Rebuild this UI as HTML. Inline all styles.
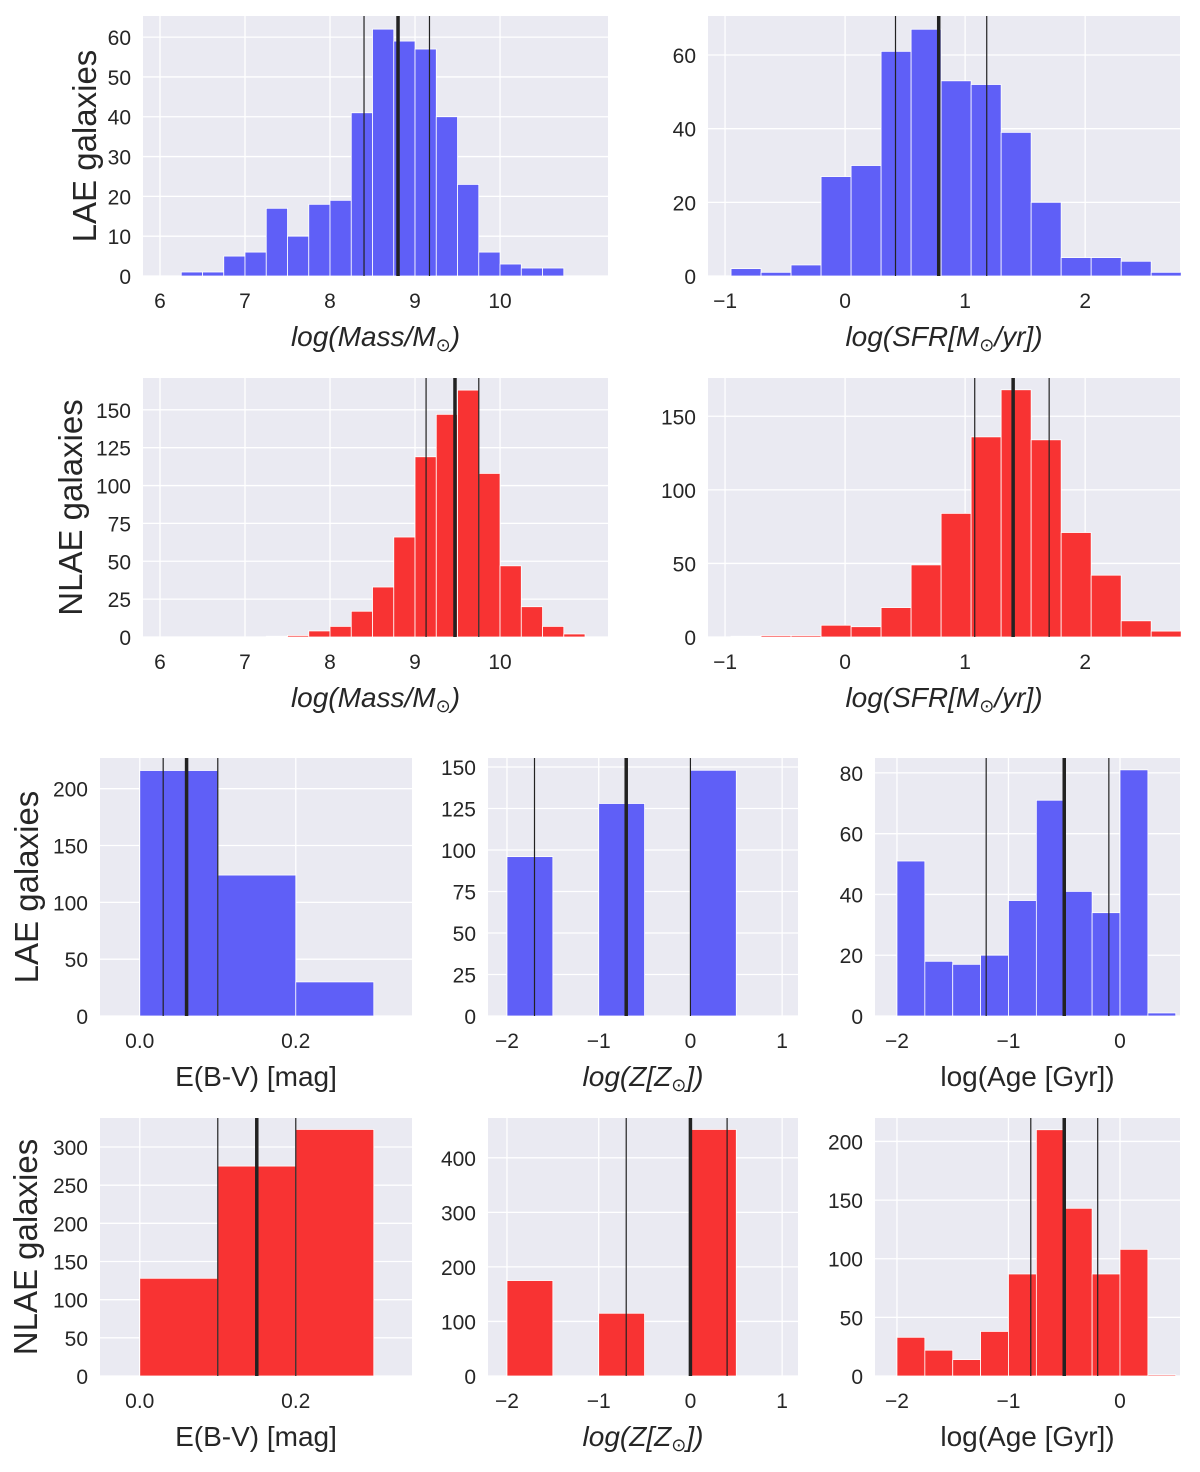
<!DOCTYPE html>
<html><head><meta charset="utf-8"><style>
body{margin:0;background:#fff}
svg{display:block;font-family:"Liberation Sans","DejaVu Sans",sans-serif}
</style></head><body>
<svg id="fig" width="1200" height="1472" viewBox="0 0 1200 1472" xmlns="http://www.w3.org/2000/svg"></svg>
<script>
// ---- data ----
const massLaeStart = 6.25, massBinW = 0.25;
const massLae = [1,1,5,6,17,10,18,19,41,62,59,57,40,23,6,3,2,2];
const sfrStart = -0.95, sfrBinW = 0.25;
const sfrLae = [2,1,3,27,30,61,67,53,52,39,20,5,5,4,1];
const massNlaeStart = 7.25;
const massNlae = [0.5,1,4,7,17,33,66,119,147,163,108,47,20,7,2];
const sfrNlae = [0.5,1,1,8,7,20,49,84,136,168,134,71,42,11,4];
const ebvEdges = [0,0.1,0.2,0.3];
const ebvLae = [216,124,30];
const ebvNlae = [128,275,323];
const zLeft = [-2,-1,0];
const zW = 0.5;
const zLae = [96,128,148];
const zNlae = [175,115,452];
const ageStart = -2, ageW = 0.25;
const ageLae = [51,18,17,20,38,71,41,34,81,1];
const ageNlae = [33,22,14,38,87,210,143,87,108,1];
const linesMassLae = [8.4,8.8,9.17];
const linesSfrLae = [0.42,0.78,1.18];
const linesMassNlae = [9.13,9.47,9.75];
const linesSfrNlae = [1.08,1.4,1.7];
const linesEbvLae = [0.03,0.06,0.1];
const linesEbvNlae = [0.1,0.15,0.2];
const linesZLae = [-1.7,-0.7,0];
const linesZNlae = [-0.7,0,0.4];
const linesAgeLae = [-1.2,-0.5,-0.1];
const linesAgeNlae = [-0.8,-0.5,-0.2];
const xtMass = [6,7,8,9,10], xtSfr = [-1,0,1,2], xtEbv = [0,0.2], xtZ = [-2,-1,0,1], xtAge = [-2,-1,0];
const ytMassLae = [0,10,20,30,40,50,60], ytSfrLae = [0,20,40,60];
const ytNlae = [0,25,50,75,100,125,150], ytSfrNlae = [0,50,100,150];
const ytEbvLae = [0,50,100,150,200], ytZLae = [0,25,50,75,100,125,150], ytAgeLae = [0,20,40,60,80];
const ytEbvNlae = [0,50,100,150,200,250,300], ytZNlae = [0,100,200,300,400], ytAgeNlae = [0,50,100,150,200];

const BLUE = "#5f5ff7", RED = "#f83333";
function uniform(start,w,n){const e=[];for(let i=0;i<=n;i++)e.push(start+i*w);return e;}
const NS="http://www.w3.org/2000/svg";
const svg=document.getElementById('fig');
function mk(tag,attrs,parent){const el=document.createElementNS(NS,tag);for(const k in attrs)el.setAttribute(k,attrs[k]);(parent||svg).appendChild(el);return el;}
function fmt(v,dec){let s=dec?v.toFixed(1):String(v);return s.replace('-','\u2212');}

function panel(p){
  const g=mk('g',{});
  
  
  const X=v=>p.x0+(v-p.xd[0])/(p.xd[1]-p.xd[0])*(p.x1-p.x0);
  const Y=v=>p.y1-(v-p.yd[0])/(p.yd[1]-p.yd[0])*(p.y1-p.y0);
  const bg=mk('rect',{x:p.x0,y:p.y0,width:p.x1-p.x0,height:p.y1-p.y0,fill:'#eaeaf2'},g);
  
  p.xt.forEach(v=>{mk('line',{x1:X(v),x2:X(v),y1:p.y0,y2:p.y1,stroke:'#fff','stroke-width':1.3},g);
    const t=mk('text',{x:X(v),y:p.y1+32,'text-anchor':'middle','font-size':21,fill:'#262626'},g);t.textContent=fmt(v,p.xdec);
    });
  p.yt.forEach(v=>{mk('line',{x1:p.x0,x2:p.x1,y1:Y(v),y2:Y(v),stroke:'#fff','stroke-width':1.3},g);
    const t=mk('text',{x:p.x0-12,y:Y(v)+8,'text-anchor':'end','font-size':21,fill:'#262626'},g);t.textContent=fmt(v);
    });
  for(let i=0;i<p.vals.length;i++){
    const a=p.edges[i],b=p.edges[i]+p.w;
    const r=mk('rect',{x:X(a),y:Y(p.vals[i]),width:X(b)-X(a),height:Y(0)-Y(p.vals[i]),fill:p.color,stroke:'#fff','stroke-width':0.8},g);
    
  }
  p.lines.forEach((v,i)=>{const l=mk('line',{x1:X(v),x2:X(v),y1:p.y0,y2:p.y1,stroke:'#222','stroke-width':i==1?3.5:1.2},g);
    });
  const xl=mk('text',{x:(p.x0+p.x1)/2,y:p.y1+70,'text-anchor':'middle','font-size':28,fill:'#262626','font-style':p.italic?'italic':'normal'},g);
  xl.innerHTML=p.xlabel;
  if(p.ylabel){const cy=(p.y0+p.y1)/2;const yl=mk('text',{x:p.ylx,y:cy,'text-anchor':'middle','font-size':33,fill:'#262626',transform:`rotate(-90 ${p.ylx} ${cy})`},g);
    yl.textContent=p.ylabel;}
}
const sun='<tspan font-style="normal" font-size="18" dy="5">⊙</tspan><tspan dy="-5">';
const massL='log(Mass/M'+sun+')</tspan>';
const sfrL='log(SFR[M'+sun+'/yr])</tspan>';
const zL='log(Z[Z'+sun+'])</tspan>';
const ageL='log(Age [Gyr])';
const ebvL='E(B-V) [mag]';

panel({name:'lae-mass-hist',x0:143,x1:608,y0:16,y1:276,xd:[5.8,11.27],yd:[0,65.3],xt:xtMass,yt:ytMassLae,edges:uniform(massLaeStart,massBinW,massLae.length),w:massBinW,vals:massLae,color:BLUE,lines:linesMassLae,xlabel:massL,italic:true,ylabel:'LAE galaxies',ylx:96});
panel({name:'lae-sfr-hist',x0:708,x1:1180,y0:16,y1:276,xd:[-1.142,2.79],yd:[0,70.6],xt:xtSfr,yt:ytSfrLae,edges:uniform(sfrStart,sfrBinW,sfrLae.length),w:sfrBinW,vals:sfrLae,color:BLUE,lines:linesSfrLae,xlabel:sfrL,italic:true});
panel({name:'nlae-mass-hist',x0:143,x1:608,y0:378,y1:637,xd:[5.8,11.27],yd:[0,171],xt:xtMass,yt:ytNlae,edges:uniform(massNlaeStart,massBinW,massNlae.length),w:massBinW,vals:massNlae,color:RED,lines:linesMassNlae,xlabel:massL,italic:true,ylabel:'NLAE galaxies',ylx:82});
panel({name:'nlae-sfr-hist',x0:708,x1:1180,y0:378,y1:637,xd:[-1.142,2.79],yd:[0,176],xt:xtSfr,yt:ytSfrNlae,edges:uniform(sfrStart,sfrBinW,sfrNlae.length),w:sfrBinW,vals:sfrNlae,color:RED,lines:linesSfrNlae,xlabel:sfrL,italic:true});
panel({name:'lae-ebv-hist',x0:100,x1:412,y0:758,y1:1016,xd:[-0.051,0.349],yd:[0,227],xt:xtEbv,xdec:true,yt:ytEbvLae,edges:ebvEdges,w:0.1,vals:ebvLae,color:BLUE,lines:linesEbvLae,xlabel:ebvL,ylabel:'LAE galaxies',ylx:38});
panel({name:'lae-metallicity-hist',x0:488,x1:798,y0:758,y1:1016,xd:[-2.207,1.173],yd:[0,155.4],xt:xtZ,yt:ytZLae,edges:zLeft,w:zW,vals:zLae,color:BLUE,lines:linesZLae,xlabel:zL,italic:true});
panel({name:'lae-age-hist',x0:875,x1:1180,y0:758,y1:1016,xd:[-2.197,0.538],yd:[0,84.9],xt:xtAge,yt:ytAgeLae,edges:uniform(ageStart,ageW,ageLae.length),w:ageW,vals:ageLae,color:BLUE,lines:linesAgeLae,xlabel:ageL});
panel({name:'nlae-ebv-hist',x0:100,x1:412,y0:1118,y1:1376,xd:[-0.051,0.349],yd:[0,338],xt:xtEbv,xdec:true,yt:ytEbvNlae,edges:ebvEdges,w:0.1,vals:ebvNlae,color:RED,lines:linesEbvNlae,xlabel:ebvL,ylabel:'NLAE galaxies',ylx:37});
panel({name:'nlae-metallicity-hist',x0:488,x1:798,y0:1118,y1:1376,xd:[-2.207,1.173],yd:[0,473],xt:xtZ,yt:ytZNlae,edges:zLeft,w:zW,vals:zNlae,color:RED,lines:linesZNlae,xlabel:zL,italic:true});
panel({name:'nlae-age-hist',x0:875,x1:1180,y0:1118,y1:1376,xd:[-2.197,0.538],yd:[0,220],xt:xtAge,yt:ytAgeNlae,edges:uniform(ageStart,ageW,ageNlae.length),w:ageW,vals:ageNlae,color:RED,lines:linesAgeNlae,xlabel:ageL});
</script>
</body></html>
